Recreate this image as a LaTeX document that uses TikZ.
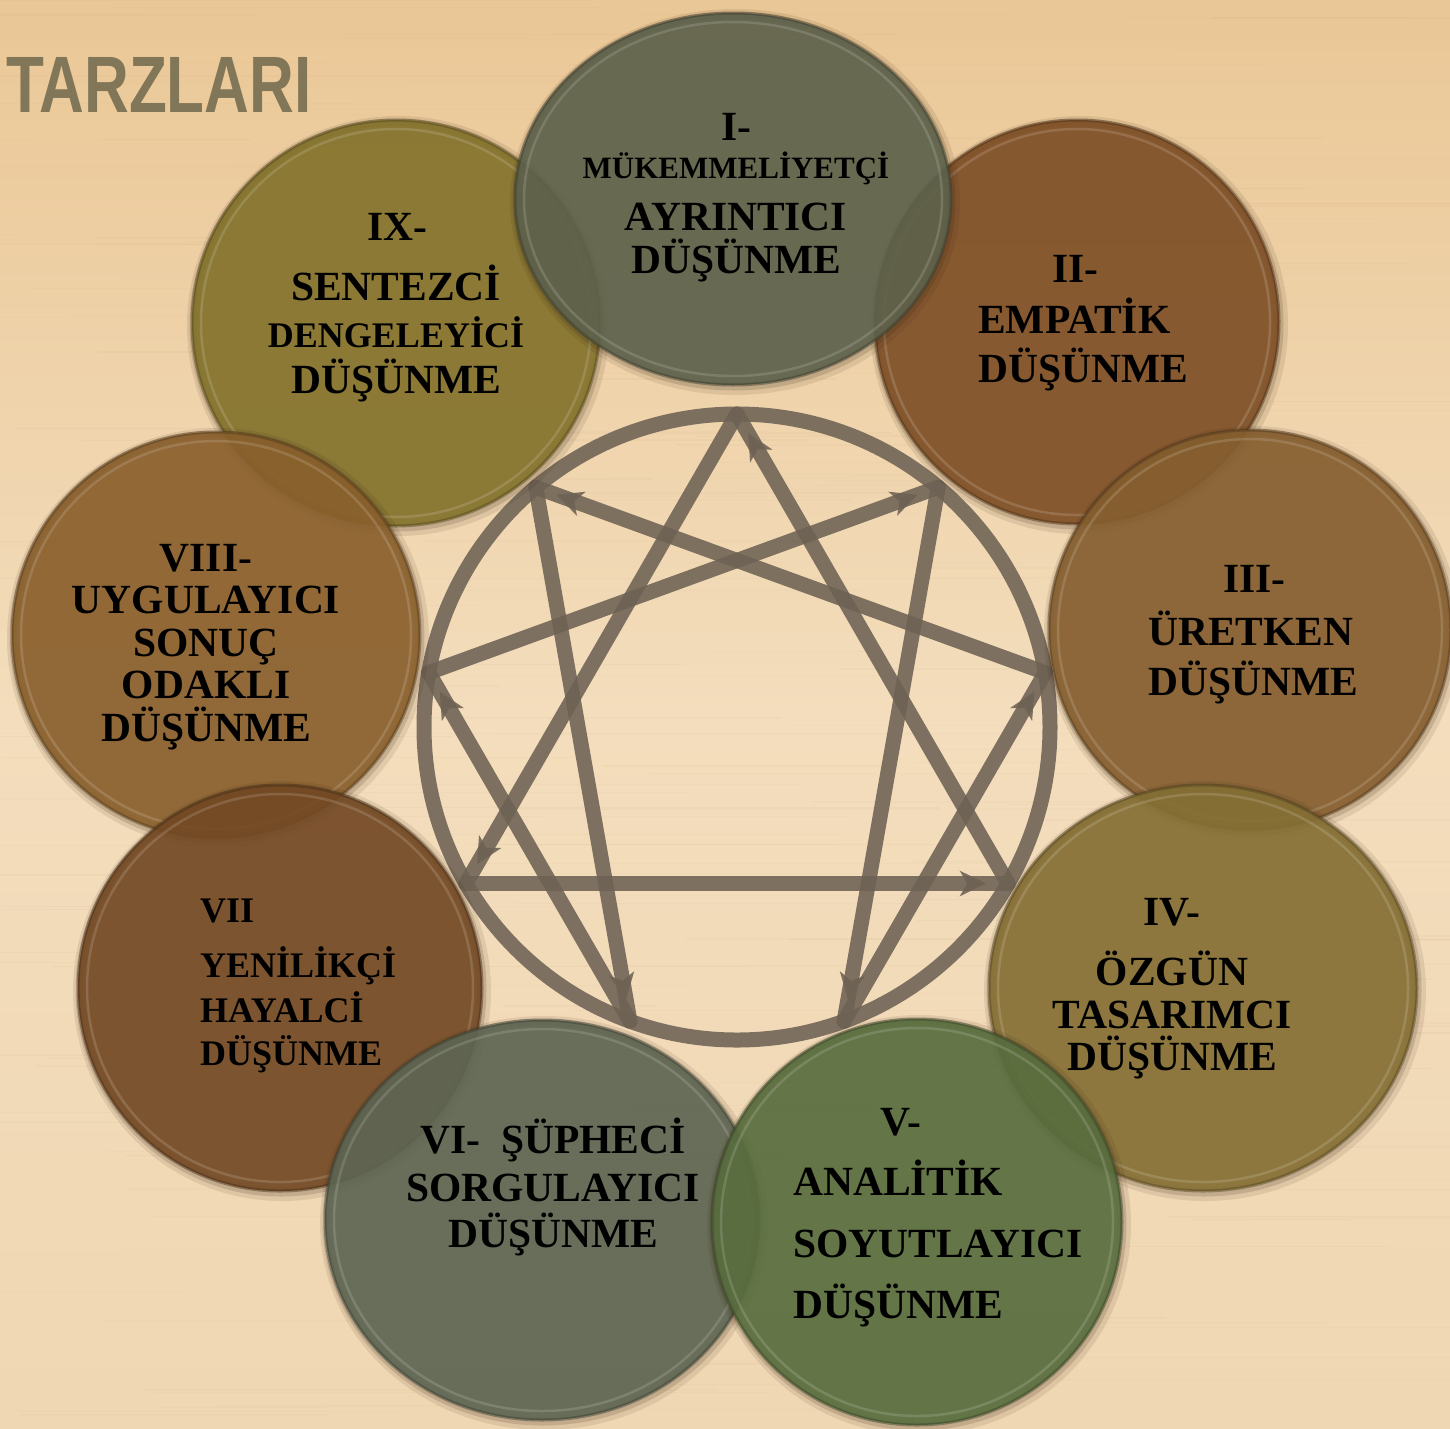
\documentclass[tikz,border=0pt]{standalone}
\usepackage{fontspec}
\usepackage{graphicx}
\setmainfont{Liberation Serif}
\newfontfamily\titlefont{Liberation Sans}
\usetikzlibrary{arrows.meta,decorations.markings,calc}

\definecolor{bgTop}{RGB}{234,199,150}
\definecolor{bgMid}{RGB}{243,221,188}
\definecolor{bgBot}{RGB}{240,215,179}
\definecolor{grain}{RGB}{190,150,105}
\definecolor{ennea}{RGB}{110,98,84}
\definecolor{titlecol}{RGB}{124,114,84}
\definecolor{cI}{RGB}{93,97,75}
\definecolor{cII}{RGB}{126,79,38}
\definecolor{cIII}{RGB}{133,94,47}
\definecolor{cIV}{RGB}{133,111,52}
\definecolor{cV}{RGB}{88,109,62}
\definecolor{cVI}{RGB}{93,101,82}
\definecolor{cVII}{RGB}{115,73,36}
\definecolor{cVIII}{RGB}{137,95,44}
\definecolor{cIX}{RGB}{131,114,44}

% #1 x, #2 y, #3 rx, #4 ry, #5 colour
\newcommand\bubble[5]{%
  \draw[black!70!brown, opacity=0.10, line width=14pt] (#1+2,#2+3) ellipse[x radius=#3, y radius=#4];
  \draw[black!70!brown, opacity=0.16, line width=7pt] (#1+1,#2+2) ellipse[x radius=#3, y radius=#4];
  \fill[#5, fill opacity=0.92] (#1,#2) ellipse[x radius=#3, y radius=#4];
  \draw[#5!60!black, opacity=0.45, line width=3pt] (#1,#2) ellipse[x radius=#3, y radius=#4];
  \draw[white, opacity=0.14, line width=2.5pt] (#1,#2) ellipse[x radius=#3-9, y radius=#4-9];
}

\tikzset{
  lab/.style={inner sep=0pt, text=black, font=\fontsize{41.5}{48}\selectfont\bfseries},
  labs/.style={inner sep=0pt, text=black, font=\fontsize{36}{42}\selectfont\bfseries},
  labxs/.style={inner sep=0pt, text=black, font=\fontsize{31}{36}\selectfont\bfseries},
  ennline/.style={draw=ennea, draw opacity=0.88, line width=15pt, line cap=round, line join=round},
  arr/.style={postaction={decorate, decoration={markings,
      mark=at position -22pt with {\arrow[ennea, opacity=0.88]{Stealth[length=26pt,width=25pt,inset=7pt]}}}}}
}

\begin{document}
\begin{tikzpicture}[x=1pt,y=-1pt]
\useasboundingbox (0,0) rectangle (1450,1428);
% background
\fill[top color=bgTop, bottom color=bgBot, middle color=bgMid] (0,0) rectangle (1450,1428);
\fill[bgTop, opacity=0.5] (0,0) rectangle (1450,40);
\pgfmathsetseed{11}
\foreach \i in {1,...,220}{
  \pgfmathsetmacro\yy{rnd*1428}
  \pgfmathsetmacro\xx{rnd*1450-200}
  \pgfmathsetmacro\ll{150+rnd*600}
  \pgfmathsetmacro\op{0.03+0.05*rnd}
  \draw[grain, opacity=\op, line width=1.3pt] (\xx,\yy) -- (\xx+\ll,\yy);
}

% title fragment
\node[anchor=base west, inner sep=0pt, text=titlecol, opacity=0.95] (title) at (6,112)
  {\titlefont\bfseries\fontsize{80}{80}\selectfont\scalebox{0.775}[1]{TARZLARI}};

% enneagram
\coordinate (ec) at (737,727);
\foreach \k in {0,...,8}{
  \coordinate (p\k) at ($(ec)+({313*sin(40*\k)},{-313*cos(40*\k)})$);
}
\draw[ennline] (ec) circle[radius=313];
\draw[ennline, arr] (p0) -- (p6);
\draw[ennline, arr] (p6) -- (p3);
\draw[ennline, arr] (p3) -- (p0);
\draw[ennline, arr] (p1) -- (p4);
\draw[ennline, arr] (p4) -- (p2);
\draw[ennline, arr] (p2) -- (p8);
\draw[ennline, arr] (p8) -- (p5);
\draw[ennline, arr] (p5) -- (p7);
\draw[ennline, arr] (p7) -- (p1);

% bubbles
\bubble{396}{323}{204}{203}{cIX}
\bubble{216}{635}{204}{203}{cVIII}
\bubble{280}{988}{202}{203}{cVII}
\bubble{1077}{322}{202}{202}{cII}
\bubble{1250}{630}{201}{200}{cIII}
\bubble{1203}{988}{214}{203}{cIV}
\bubble{733}{199}{218}{186}{cI}
\bubble{542}{1220}{217}{200}{cVI}
\bubble{917}{1222}{205}{203}{cV}

% I
\node[lab, anchor=base] (t1a) at (736,140) {I-};
\node[labxs, anchor=base] (t1b) at (736,178) {MÜKEMMELİYETÇİ};
\node[lab, anchor=base] (t1c) at (736,230) {AYRINTICI};
\node[lab, anchor=base] (t1d) at (736,273) {DÜŞÜNME};
% II
\node[lab, anchor=base west] (t2a) at (1052,282) {II-};
\node[lab, anchor=base west] (t2b) at (978,333) {EMPATİK};
\node[lab, anchor=base west] (t2c) at (978,382) {DÜŞÜNME};
% III
\node[lab, anchor=base west] (t3a) at (1223,592) {III-};
\node[lab, anchor=base west] (t3b) at (1148,645) {ÜRETKEN};
\node[lab, anchor=base west] (t3c) at (1148,695) {DÜŞÜNME};
% IV
\node[lab, anchor=base] (t4a) at (1172,925) {IV-};
\node[lab, anchor=base] (t4b) at (1172,985) {ÖZGÜN};
\node[lab, anchor=base] (t4c) at (1172,1028) {TASARIMCI};
\node[lab, anchor=base] (t4d) at (1172,1070) {DÜŞÜNME};
% V
\node[lab, anchor=base west] (t5a) at (880,1135) {V-};
\node[lab, anchor=base west] (t5b) at (793,1195) {ANALİTİK};
\node[lab, anchor=base west] (t5c) at (793,1257) {SOYUTLAYICI};
\node[lab, anchor=base west] (t5d) at (793,1318) {DÜŞÜNME};
% VI
\node[lab, anchor=base] (t6a) at (553,1153) {VI-\ \ ŞÜPHECİ};
\node[lab, anchor=base] (t6b) at (553,1201) {SORGULAYICI};
\node[lab, anchor=base] (t6c) at (553,1247) {DÜŞÜNME};
% VII
\node[labs, anchor=base west] (t7a) at (200,922) {VII};
\node[labs, anchor=base west] (t7b) at (200,977) {YENİLİKÇİ};
\node[labs, anchor=base west] (t7c) at (200,1022) {HAYALCİ};
\node[labs, anchor=base west] (t7d) at (200,1065) {DÜŞÜNME};
% VIII
\node[lab, anchor=base] (t8a) at (206,571) {VIII-};
\node[lab, anchor=base] (t8b) at (206,613) {UYGULAYICI};
\node[lab, anchor=base] (t8c) at (206,656) {SONUÇ};
\node[lab, anchor=base] (t8d) at (206,698) {ODAKLI};
\node[lab, anchor=base] (t8e) at (206,741) {DÜŞÜNME};
% IX
\node[lab, anchor=base] (t9a) at (397,240) {IX-};
\node[lab, anchor=base] (t9b) at (396,300) {SENTEZCİ};
\node[labs, anchor=base] (t9c) at (396,347) {DENGELEYİCİ};
\node[lab, anchor=base] (t9d) at (396,393) {DÜŞÜNME};
\end{tikzpicture}
\end{document}
